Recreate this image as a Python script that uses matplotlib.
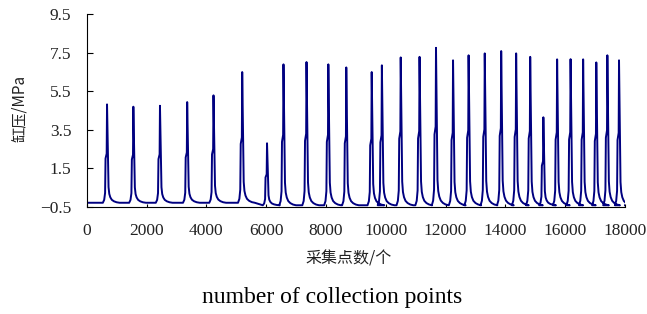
import numpy as np
import matplotlib
matplotlib.use("Agg")
import matplotlib.pyplot as plt

# =====================================
# Data
# =====================================

peak_pos = [680, 1560, 2450, 3360, 4240, 5200, 6030, 6580, 7350, 8080,
            8680, 9530, 9870, 10500, 11130, 11680, 12250, 12770, 13310,
            13860, 14360, 14830, 15270, 15730, 16180, 16600, 17040, 17410,
            17800]
peak_val = [4.81, 4.69, 4.74, 4.93, 5.28, 6.49, 2.79, 6.89, 7.01, 6.89,
            6.73, 6.49, 6.84, 7.25, 7.28, 7.75, 7.10, 7.36, 7.46,
            7.58, 7.46, 7.28, 4.14, 7.15, 7.16, 7.15, 6.99, 7.36,
            7.10]
base_val = [-0.30] * 6 + [-0.43] * 23

# shape of one pressure pulse: offset in points, fraction of peak height
pulse_off = [-140, -95, -65, -50, -12, 0, 15, 30, 50, 75, 110, 160, 230, 320, 420]
pulse_frac = [0, 0.03, 0.1, 0.45, 0.5, 1.0, 0.75, 0.45, 0.16, 0.09, 0.055,
              0.03, 0.015, 0.005, 0]

yticks = [-0.5, 1.5, 3.5, 5.5, 7.5, 9.5]
xticks = [0, 2000, 4000, 6000, 8000, 10000, 12000, 14000, 16000, 18000]

# =====================================
# Build the trace
# =====================================

xs = [0]
ys = [base_val[0]]
for p, h, b in zip(peak_pos, peak_val, base_val):
    for o, f in zip(pulse_off, pulse_frac):
        xs.append(p + o)
        ys.append(b + (h - b) * f)
xs.append(18000)
ys.append(base_val[-1])

# =====================================
# Plot
# =====================================

cjk = ["Noto Sans CJK SC", "DejaVu Sans"]
num_font = "Liberation Serif"
txt_col = "#222222"

fig = plt.figure(figsize=(6.47, 3.14), dpi=100)
ax = fig.add_axes([0.134, 0.342, 0.832, 0.613])

ax.plot(xs, ys, color="#000080", lw=1.4)

ax.set_xlim(0, 18000)
ax.set_ylim(-0.5, 9.5)
ax.spines["top"].set_visible(False)
ax.spines["right"].set_visible(False)

ax.set_xticks(xticks)
ax.set_xticklabels([str(t) for t in xticks], fontfamily=num_font,
                   fontsize=12.5, color=txt_col)
ax.set_yticks(yticks)
ax.set_yticklabels([f"{t:.1f}".replace("-", "\u2212") for t in yticks],
                   fontfamily=num_font, fontsize=12.5, color=txt_col)
ax.tick_params(axis="both", direction="in", width=0.8)
ax.tick_params(axis="x", length=2.5, pad=11.5)
ax.tick_params(axis="y", length=4, pad=11)

fig.text(0.030, 0.656, "缸压/MPa", rotation=90, ha="center", va="center",
         family=cjk, fontsize=11, color=txt_col)
fig.text(0.539, 0.175, "采集点数/个", ha="center", va="center",
         family=cjk, fontsize=11.5, color=txt_col)
fig.text(0.513, 0.035, "number of collection points", ha="center",
         va="baseline", fontfamily=num_font, fontsize=17, color="black")

fig.savefig("out.png", dpi=100)
